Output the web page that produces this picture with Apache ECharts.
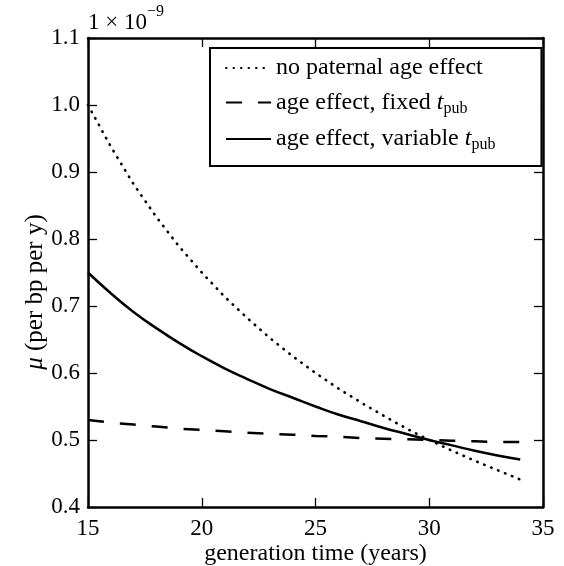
<!DOCTYPE html>
<html><head><meta charset="utf-8">
<script src="https://cdn.jsdelivr.net/npm/echarts@6/dist/echarts.min.js"></script>
<style>html,body{margin:0;padding:0;background:#fff}#c{width:564px;height:566px}</style>
</head><body><div id="c"></div>
<script>
// generation time (years)
const generationTime = [15,16,17,18,19,20,21,22,23,24,25,26,27,28,29,30,31,32,33,34];
// mutation rate, units of 1e-9 per bp per year
const noPaternal   = [1.000,0.938,0.882,0.833,0.789,0.750,0.714,0.682,0.652,0.625,0.600,0.577,0.556,0.536,0.517,0.500,0.484,0.469,0.455,0.441];
const fixedTpub    = [0.530,0.526,0.523,0.520,0.517,0.515,0.513,0.511,0.509,0.508,0.506,0.505,0.503,0.502,0.501,0.500,0.499,0.498,0.497,0.497];
const variableTpub = [0.750,0.719,0.691,0.667,0.645,0.625,0.607,0.591,0.576,0.563,0.550,0.538,0.528,0.518,0.509,0.500,0.492,0.484,0.477,0.471];
const seriesNames = ['no paternal age effect','age effect, fixed t_pub','age effect, variable t_pub'];
const xTickLabels = ['15','20','25','30','35'];
const yTickLabels = ['0.4','0.5','0.6','0.7','0.8','0.9','1.0','1.1'];

const FONT = 'Liberation Serif';
const pairs = arr => generationTime.map((g,i)=>[g,arr[i]]);
const chart = echarts.init(document.getElementById('c'));
const axisLine = {show:true, lineStyle:{color:'#000', width:2.5}};
const tick = {show:true, inside:true, length:9, lineStyle:{color:'#000', width:1.3}};
const legendRich = {
  a:{fontFamily:FONT, fontSize:24, color:'#000', lineHeight:28},
  t:{fontFamily:FONT, fontSize:24, fontStyle:'italic', color:'#000', lineHeight:28},
  s:{fontFamily:FONT, fontSize:16, color:'#000', lineHeight:16, verticalAlign:'bottom'}
};
chart.setOption({
  animation:false,
  backgroundColor:'#fff',
  grid:{left:88, right:21, top:38, bottom:59, containLabel:false, outerBoundsMode:'none'},
  xAxis:[{
    type:'value', min:15, max:35, interval:5,
    name:'generation time (years)', nameLocation:'middle', nameGap:35, nameMoveOverlap:false,
    nameTextStyle:{fontFamily:FONT, fontSize:24, color:'#000'},
    axisLine, axisTick:tick, splitLine:{show:false},
    axisLabel:{margin:10, fontFamily:FONT, fontSize:23, color:'#000',
      formatter:v=>xTickLabels[Math.round((v-15)/5)]}
  },{
    type:'value', position:'top', min:15, max:35, interval:5,
    axisLine, axisTick:tick, axisLabel:{show:false}, splitLine:{show:false}
  }],
  yAxis:[{
    type:'value', min:0.4, max:1.1, interval:0.1,
    name:'{i|μ} (per bp per y)', nameLocation:'middle', nameGap:40, nameMoveOverlap:false,
    nameTextStyle:{fontFamily:FONT, fontSize:25, color:'#000', padding:[0,39,0,0],
      rich:{i:{fontFamily:FONT, fontSize:25, fontStyle:'italic', color:'#000'}}},
    axisLine, axisTick:tick, splitLine:{show:false},
    axisLabel:{margin:8, fontFamily:FONT, fontSize:23, color:'#000',
      formatter:v=>yTickLabels[Math.round((v-0.4)*10)]}
  },{
    type:'value', position:'right', min:0.4, max:1.1, interval:0.1,
    axisLine, axisTick:tick, axisLabel:{show:false}, splitLine:{show:false}
  }],
  legend:{
    orient:'vertical', left:210, top:48,
    itemWidth:45, itemHeight:14, itemGap:10.5,
    padding:[8,46,13,15],
    borderColor:'#000', borderWidth:2, backgroundColor:'#fff',
    itemStyle:{opacity:0},
    data:seriesNames,
    formatter:n=>{
      if(n===seriesNames[0]) return '{a|no paternal age effect}';
      if(n===seriesNames[1]) return '{a|age effect, fixed }{t|t}{s|pub}';
      return '{a|age effect, variable }{t|t}{s|pub}';
    },
    textStyle:{rich:legendRich}
  },
  graphic:[{
    type:'text', left:88, top:4,
    style:{text:'{a|1 × 10}{b|−9}', rich:{
      a:{fontFamily:FONT, fontSize:23, fill:'#000', lineHeight:30, verticalAlign:'bottom'},
      b:{fontFamily:FONT, fontSize:16, fill:'#000', lineHeight:30, verticalAlign:'top'}
    }}
  }],
  series:[
    {name:seriesNames[0], type:'line', symbol:'none', color:'#000', data:pairs(noPaternal),
     lineStyle:{color:'#000', width:2.6, type:[0.5,7], cap:'round'}},
    {name:seriesNames[1], type:'line', symbol:'none', color:'#000', data:pairs(fixedTpub),
     lineStyle:{color:'#000', width:2.5, type:[16,16]}},
    {name:seriesNames[2], type:'line', symbol:'none', color:'#000', smooth:true, data:pairs(variableTpub),
     lineStyle:{color:'#000', width:2.5}}
  ]
});
</script></body></html>
